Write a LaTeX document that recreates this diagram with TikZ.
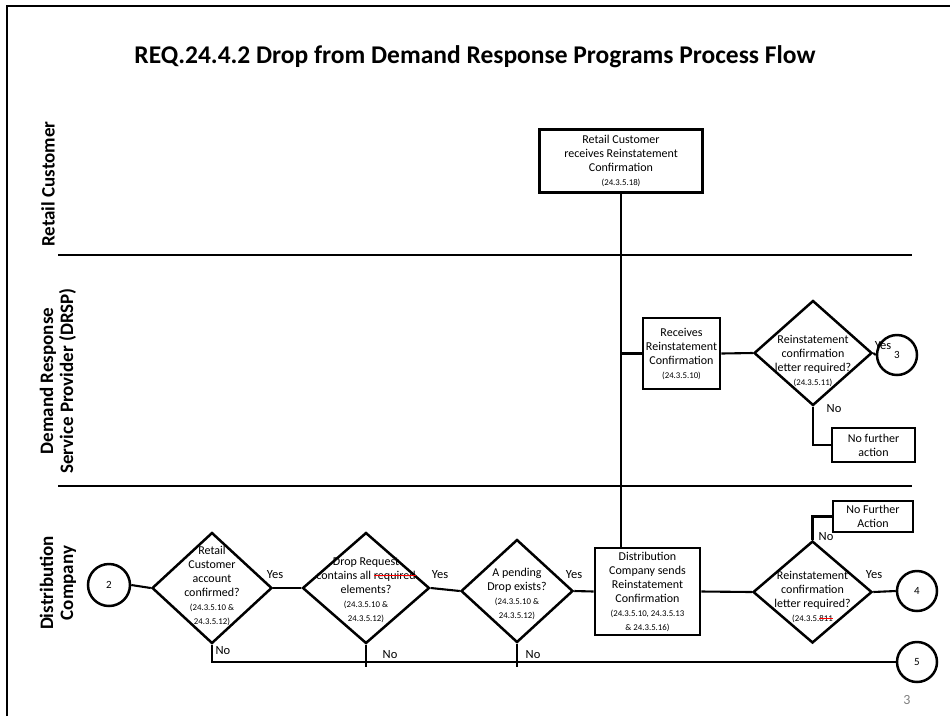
\documentclass[tikz,border=0pt]{standalone}
\usepackage{fontspec}
\setmainfont{Carlito}
\usetikzlibrary{positioning}
\usetikzlibrary{shapes.geometric}

\newcommand{\refno}[1]{{\fontsize{8.8}{11}\selectfont #1}}
\newsavebox{\strikebox}
\newcommand{\struck}[1]{\sbox\strikebox{#1}\textcolor{red}{\rlap{\usebox\strikebox}\rule[0.28em]{\wd\strikebox}{0.7pt}}}

\begin{document}
\begin{tikzpicture}[x=1pt,y=-1pt]
		\tikzset{stepbox/.style = {draw, line width=2.9pt, align=center, inner sep=1pt, font=\fontsize{12}{14}\selectfont}}
		\tikzset{decide/.style = {draw, diamond, line width=2.5pt, inner sep=0pt}}
		\tikzset{qtext/.style = {align=center, inner sep=0pt, font=\fontsize{12}{14}\selectfont}}
		\tikzset{conn/.style = {draw, circle, line width=2.5pt, minimum size=40pt, inner sep=0pt, font=\fontsize{11}{13}\selectfont}}
		\tikzset{link/.style = {line width=2.1pt}}
		\tikzset{lane/.style = {line width=1.2pt}}
		\tikzset{tag/.style = {inner sep=1pt, font=\fontsize{12.5}{14}\selectfont}}
		\tikzset{lanename/.style = {rotate=90, align=center, font=\fontsize{19}{20}\selectfont\bfseries}}
		\useasboundingbox (0,0) rectangle (950,716);
		% slide frame and title
		\draw[line width=1.6pt] (7,716) -- (7,6) -- (950,6);
		\node[font=\fontsize{25.5}{30}\selectfont\bfseries] (T) at (475,57) {REQ.24.4.2 Drop from Demand Response Programs Process Flow};
		% swim lanes
		\draw[lane] (58,255) -- (912,255);
		\draw[lane] (58,486) -- (912,486);
		\node[lanename] (L1) at (48,184) {Retail Customer};
		\node[lanename] (L2) at (58,381) {Demand Response\\Service Provider (DRSP)};
		\node[lanename] (L3) at (58,583) {Distribution\\Company};
		% retail customer
		\node[stepbox, minimum width=163pt, minimum height=63pt] (A) at (621,161) {Retail Customer\\receives Reinstatement\\Confirmation\\\refno{(24.3.5.18)}};
		% DRSP
		\node[stepbox, minimum width=77pt, minimum height=71pt] (B) at (681.5,353.5) {Receives\\Reinstatement\\Confirmation\\\refno{(24.3.5.10)}};
		\node[decide, minimum width=118pt, minimum height=105pt] (D1) at (813,353) {};
		\node[qtext] (D1t) at (813,361) {Reinstatement\\confirmation\\letter required?\\\refno{(24.3.5.11)}};
		\node[conn] (C3) at (897,355) {3};
		\node[stepbox, minimum width=83pt, minimum height=34pt] (N1) at (873.5,445) {No further\\action};
		% distribution company
		\node[conn, minimum size=42pt] (C2) at (109,585) {2};
		\node[decide, minimum width=120pt, minimum height=111pt] (Q1) at (212,588) {};
		\node[qtext] (Q1t) at (212,586) {Retail\\Customer\\account\\confirmed?\\\refno{(24.3.5.10 \&}\\\refno{24.3.5.12)}};
		\node[decide, minimum width=127pt, minimum height=111pt] (Q2) at (366,588) {};
		\node[qtext] (Q2t) at (366,590) {Drop Request\\contains all \struck{required}\\elements?\\\refno{(24.3.5.10 \&}\\\refno{24.3.5.12)}};
		\node[decide, minimum width=112pt, minimum height=103pt] (Q3) at (517,591) {};
		\node[qtext] (Q3t) at (517,594) {A pending\\Drop exists?\\\refno{(24.3.5.10 \&}\\\refno{24.3.5.12)}};
		\node[stepbox, minimum width=105pt, minimum height=87pt] (E) at (647.5,591.5) {Distribution\\Company sends\\Reinstatement\\Confirmation\\\refno{(24.3.5.10, 24.3.5.13}\\\refno{\& 24.3.5.16)}};
		\node[decide, minimum width=119pt, minimum height=102pt] (Q4) at (812.5,592) {};
		\node[qtext] (Q4t) at (812.5,597) {Reinstatement\\confirmation\\letter required?\\\refno{(24.3.5.\struck{811}}};
		\node[conn] (C4) at (917,591) {4};
		\node[stepbox, minimum width=80pt, minimum height=31pt] (N2) at (873,516.5) {No Further\\Action};
		\node[conn] (C5) at (917,662) {5};
		\coordinate (K2) at (366,667);
		\coordinate (K3) at (517,667);
		% connectors
		\draw[link] (A.south) -- (A.south |- E.north);
		\draw[link] (A.south |- B.west) -- (B.west);
		\draw[link] (B.east) edge (D1.west);
		\draw[link] (D1.east) edge (C3.west);
		\draw[link] (D1.south) |- (N1.west);
		\draw[link] (C2.east) -- (Q1.west);
		\draw[link] (Q1.east) -- (Q2.west);
		\draw[link] (Q2.east) -- (Q3.west);
		\draw[link] (Q3.east) -- (E.west);
		\draw[link] (E.east) -- (Q4.west);
		\draw[link] (Q4.east) -- (C4.west);
		\draw[link] (Q4.north) |- (N2.west);
		\draw[link] (Q1.south) |- (C5.west);
		\draw[link] (Q2.south) -- (K2);
		\draw[link] (Q3.south) -- (K3);
		% yes / no labels
		\node[tag] (Y1) at (275,575) {Yes};
		\node[tag] (Y2) at (440,575) {Yes};
		\node[tag] (Y3) at (574,575) {Yes};
		\node[tag] (Y4) at (874,575) {Yes};
		\node[tag] (Y5) at (883,346) {Yes};
		\node[tag] (M1) at (223,651) {No};
		\node[tag] (M2) at (390,655) {No};
		\node[tag] (M3) at (533,655) {No};
		\node[tag] (M4) at (826,537) {No};
		\node[tag] (M5) at (834,409) {No};
		% page number
		\node[text=gray, font=\fontsize{14}{16}\selectfont] (P) at (907,700) {3};
	\end{tikzpicture}
\end{document}
